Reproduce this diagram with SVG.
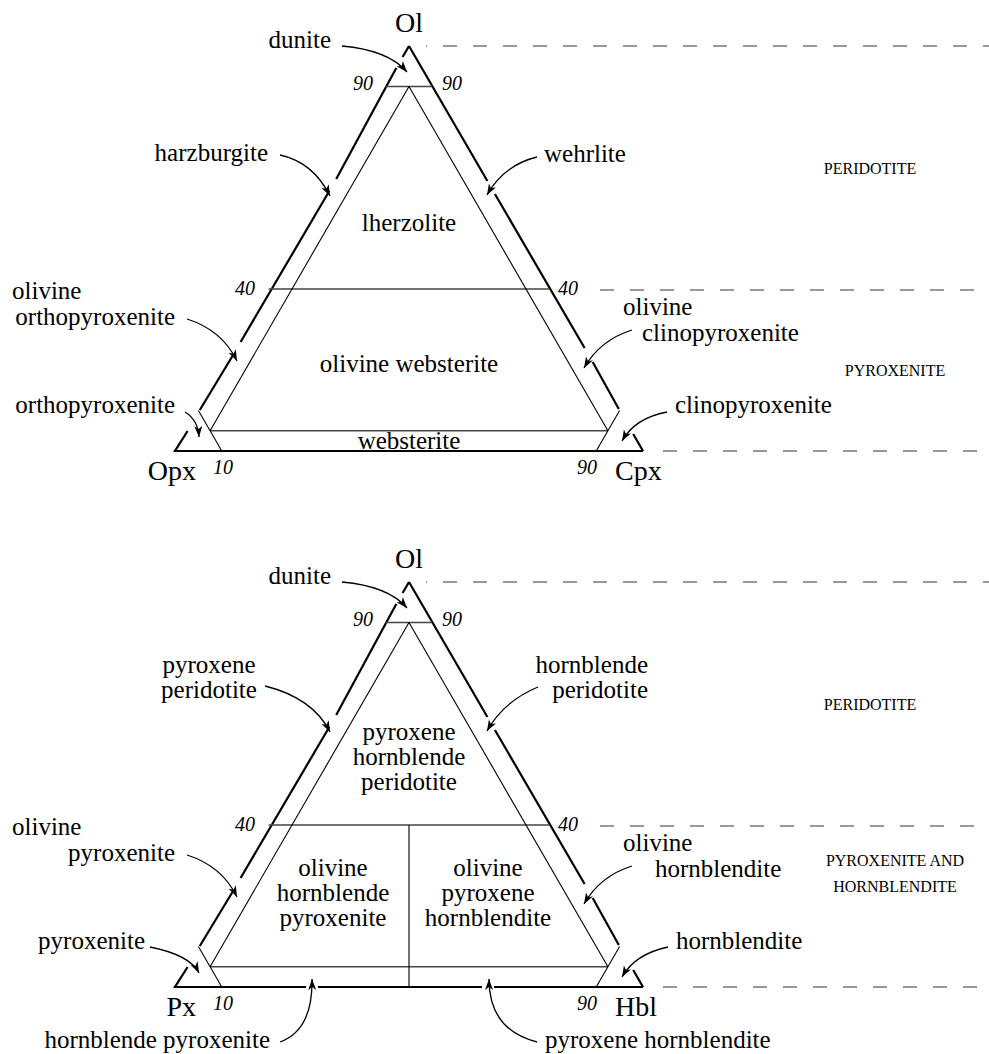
<svg xmlns="http://www.w3.org/2000/svg" width="989" height="1054" viewBox="0 0 989 1054">
<style>
text{font-family:"Liberation Serif","Times New Roman",serif;fill:#000}
.l{font-size:25px}
.c{font-size:28px}
.n{font-size:20px;font-style:italic}
.s{font-size:16px}
.m{text-anchor:middle}
.e{text-anchor:end}
.o{fill:none;stroke:#000;stroke-width:2.2}
.i{fill:none;stroke:#000;stroke-width:1.1}
.h{fill:none;stroke:#444;stroke-width:1.4}
.d{fill:none;stroke:#333;stroke-width:1.2;stroke-dasharray:14 16}
.a{fill:none;stroke:#000;stroke-width:1.3;marker-end:url(#ah)}
</style>
<defs>
<marker id="ah" markerUnits="userSpaceOnUse" markerWidth="12" markerHeight="9" refX="11" refY="4" orient="auto">
<path d="M0,0 L11,4 L0,8 L3,4 Z" fill="#000"/>
</marker>
<g id="frame">
<polyline class="o" points="409,46 402.6,57"/>
<polyline class="o" points="396.3,68 336.2,179"/>
<polyline class="o" points="329.3,191 240.6,342"/>
<polyline class="o" points="232.5,356 199.8,410"/>
<polyline class="o" points="187.6,431 175,451 643,451"/>
<polyline class="o" points="409,46 487.4,181"/>
<polyline class="o" points="494.9,194 584.6,348"/>
<polyline class="o" points="592.7,362 618.8,409"/>
<polyline class="o" points="633.2,434 643,451"/>
<line class="h" x1="385.6" y1="86.5" x2="432.4" y2="86.5"/>
<line class="h" x1="268.6" y1="289" x2="549.4" y2="289"/>
<line class="h" x1="210.1" y1="430.75" x2="607.9" y2="430.75"/>
<line class="i" x1="409" y1="86.5" x2="210.1" y2="430.75"/>
<line class="i" x1="409" y1="86.5" x2="607.9" y2="430.75"/>
<line class="i" x1="198.4" y1="410.5" x2="221.8" y2="451"/>
<line class="i" x1="619.6" y1="410.5" x2="596.2" y2="451"/>
</g>
</defs>

<g id="connectors">
<g id="dashes">
<line class="d" x1="426" y1="46" x2="989" y2="46" stroke-dashoffset="13"/>
<line class="d" x1="600" y1="290" x2="989" y2="290"/>
<line class="d" x1="663" y1="451" x2="989" y2="451"/>
<line class="d" x1="426" y1="582" x2="989" y2="582" stroke-dashoffset="13"/>
<line class="d" x1="600" y1="826" x2="989" y2="826"/>
<line class="d" x1="663" y1="987" x2="989" y2="987"/>
</g>
<g id="arrows-top">
<path class="a" d="M342,46 Q388,50 407,72"/>
<path class="a" d="M280,155 Q313,162 330,196"/>
<path class="a" d="M537,157 Q504,165 487,195"/>
<path class="a" d="M187,319 Q222,330 237,361"/>
<path class="a" d="M632,330 Q600,340 584,368"/>
<path class="a" d="M185,412 Q198,420 199,437"/>
<path class="a" d="M667,412 Q635,418 622,441"/>
</g>
<g id="arrows-bottom">
<path class="a" d="M342,582 Q388,586 407,608"/>
<path class="a" d="M265,686 Q313,698 330,732"/>
<path class="a" d="M538,687 Q504,701 487,731"/>
<path class="a" d="M187,855 Q222,866 237,897"/>
<path class="a" d="M632,866 Q600,876 584,904"/>
<path class="a" d="M150,947 Q190,955 199,973"/>
<path class="a" d="M668,947 Q635,954 622,977"/>
<path class="a" d="M280,1042 Q313,1030 312,979"/>
<path class="a" d="M537,1042 Q489,1030 489,979"/>
</g>
</g>

<g id="diagram-top">
<use href="#frame"/>
</g>
<g id="diagram-bottom">
<g transform="translate(0,536)">
<polyline class="o" points="409,46 402.6,57"/>
<polyline class="o" points="396.3,68 336.2,179"/>
<polyline class="o" points="329.3,191 240.6,342"/>
<polyline class="o" points="232.5,356 199.8,410"/>
<polyline class="o" points="187.6,431 175,451 306,451"/>
<polyline class="o" points="318,451 482,451"/>
<polyline class="o" points="494,451 643,451"/>
<polyline class="o" points="409,46 487.4,181"/>
<polyline class="o" points="494.9,194 584.6,348"/>
<polyline class="o" points="592.7,362 618.8,409"/>
<polyline class="o" points="633.2,434 643,451"/>
<line class="h" x1="385.6" y1="86.5" x2="432.4" y2="86.5"/>
<line class="h" x1="268.6" y1="289" x2="549.4" y2="289"/>
<line class="h" x1="210.1" y1="430.75" x2="607.9" y2="430.75"/>
<line class="i" x1="409" y1="86.5" x2="210.1" y2="430.75"/>
<line class="i" x1="409" y1="86.5" x2="607.9" y2="430.75"/>
<line class="i" x1="198.4" y1="410.5" x2="221.8" y2="451"/>
<line class="i" x1="619.6" y1="410.5" x2="596.2" y2="451"/>
<line class="i" x1="409" y1="289" x2="409" y2="451"/>
</g>
</g>

<g id="labels-top">
<text class="c m" x="409" y="32">Ol</text>
<text class="l e" x="331" y="48">dunite</text>
<text class="n e" x="373" y="90">90</text>
<text class="n" x="442" y="90">90</text>
<text class="l e" x="268" y="161">harzburgite</text>
<text class="l" x="544" y="162">wehrlite</text>
<text class="s m" x="870" y="174">PERIDOTITE</text>
<text class="l m" x="409" y="231">lherzolite</text>
<text class="n e" x="255" y="295">40</text>
<text class="n" x="558" y="295">40</text>
<text class="l" x="12" y="299">olivine</text>
<text class="l e" x="175" y="325">orthopyroxenite</text>
<text class="l m" x="409" y="372">olivine websterite</text>
<text class="l" x="623" y="315">olivine</text>
<text class="l" x="642" y="341">clinopyroxenite</text>
<text class="s m" x="895" y="376">PYROXENITE</text>
<text class="l e" x="175" y="413">orthopyroxenite</text>
<text class="l" x="675" y="413">clinopyroxenite</text>
<text class="l m" x="409" y="449">websterite</text>
<text class="c e" x="196" y="480">Opx</text>
<text class="n" x="213" y="474">10</text>
<text class="n e" x="597" y="474">90</text>
<text class="c" x="615" y="480">Cpx</text>
</g>

<g id="labels-bottom">
<text class="c m" x="409" y="568">Ol</text>
<text class="l e" x="331" y="584">dunite</text>
<text class="n e" x="373" y="626">90</text>
<text class="n" x="442" y="626">90</text>
<text class="l m" x="209" y="673">pyroxene</text>
<text class="l m" x="209" y="698">peridotite</text>
<text class="l e" x="648" y="673">hornblende</text>
<text class="l e" x="648" y="698">peridotite</text>
<text class="s m" x="870" y="710">PERIDOTITE</text>
<text class="l m" x="409" y="740">pyroxene</text>
<text class="l m" x="409" y="765">hornblende</text>
<text class="l m" x="409" y="790">peridotite</text>
<text class="n e" x="255" y="831">40</text>
<text class="n" x="558" y="831">40</text>
<text class="l" x="12" y="835">olivine</text>
<text class="l e" x="175" y="861">pyroxenite</text>
<text class="l m" x="333" y="876">olivine</text>
<text class="l m" x="333" y="901">hornblende</text>
<text class="l m" x="333" y="926">pyroxenite</text>
<text class="l m" x="488" y="876">olivine</text>
<text class="l m" x="488" y="901">pyroxene</text>
<text class="l m" x="488" y="926">hornblendite</text>
<text class="l" x="623" y="851">olivine</text>
<text class="l" x="655" y="877">hornblendite</text>
<text class="s m" x="895" y="866">PYROXENITE AND</text>
<text class="s m" x="895" y="892">HORNBLENDITE</text>
<text class="l e" x="145" y="949">pyroxenite</text>
<text class="l" x="676" y="949">hornblendite</text>
<text class="c e" x="196" y="1016">Px</text>
<text class="n" x="213" y="1010">10</text>
<text class="n e" x="597" y="1010">90</text>
<text class="c" x="615" y="1016">Hbl</text>
<text class="l e" x="270" y="1048">hornblende pyroxenite</text>
<text class="l" x="545" y="1048">pyroxene hornblendite</text>
</g>
</svg>
